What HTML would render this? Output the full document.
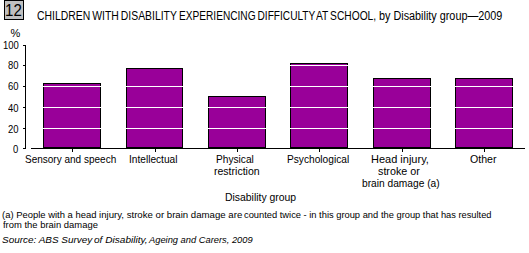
<!DOCTYPE html>
<html><head><meta charset="utf-8">
<style>
html,body{margin:0;padding:0;background:#fff;}
body{width:529px;height:253px;overflow:hidden;position:relative;font-family:"Liberation Sans",sans-serif;color:#000;}
.t{position:absolute;white-space:nowrap;line-height:12px;transform-origin:0 0;}
svg{position:absolute;left:0;top:0;}
#box{position:absolute;left:4px;top:0;width:20px;height:20px;box-sizing:border-box;border:1px solid #000;background:#c0c0c0;}
</style></head>
<body>
<svg width="529" height="253" shape-rendering="crispEdges">
  <!-- bars -->
  <g fill="#990099" stroke="none">
    <rect x="43" y="83" width="58" height="65" fill="#000"/>
    <rect x="44" y="84" width="56" height="63"/>
    <rect x="126" y="68" width="57" height="80" fill="#000"/>
    <rect x="127" y="69" width="55" height="78"/>
    <rect x="208" y="96" width="58" height="52" fill="#000"/>
    <rect x="209" y="97" width="56" height="50"/>
    <rect x="290" y="63" width="58" height="85" fill="#000"/>
    <rect x="291" y="64" width="56" height="83"/>
    <rect x="373" y="78" width="58" height="70" fill="#000"/>
    <rect x="374" y="79" width="56" height="68"/>
    <rect x="455" y="78" width="58" height="70" fill="#000"/>
    <rect x="456" y="79" width="56" height="68"/>
  </g>
  <!-- gridlines over bars -->
  <g fill="#fff">
    <rect x="31" y="65" width="494" height="1"/>
    <rect x="31" y="86" width="494" height="1"/>
    <rect x="31" y="107" width="494" height="1"/>
    <rect x="31" y="128" width="494" height="1"/>
  </g>
  <!-- axes -->
  <g fill="#000">
    <rect x="25" y="45" width="1" height="104"/>
    <rect x="23" y="45" width="2" height="1"/>
    <rect x="23" y="65" width="2" height="1"/>
    <rect x="23" y="86" width="2" height="1"/>
    <rect x="23" y="107" width="2" height="1"/>
    <rect x="23" y="128" width="2" height="1"/>
    <rect x="23" y="148" width="2" height="1"/>
    <rect x="31" y="148" width="494" height="1"/>
    <rect x="72" y="149" width="1" height="3"/>
    <rect x="155" y="149" width="1" height="3"/>
    <rect x="237" y="149" width="1" height="3"/>
    <rect x="319" y="149" width="1" height="3"/>
    <rect x="402" y="149" width="1" height="3"/>
    <rect x="484" y="149" width="1" height="3"/>
  </g>
</svg>
<div id="box"></div>
<div class="t" id="box12" style="left:5.00px;top:2px;font-size:16px;line-height:18px;transform:scaleX(0.9412);">12</div>
<div class="t" id="ti1" style="left:37.00px;top:9px;font-size:12px;line-height:14px;transform:scaleX(0.8670);word-spacing:-1px;">CHILDREN WITH DISABILITY</div>
<div class="t" id="ti2" style="left:179.00px;top:9px;font-size:12px;line-height:14px;transform:scaleX(0.8442);word-spacing:-1px;">EXPERIENCING DIFFICULTY</div>
<div class="t" id="ti3" style="left:316.00px;top:9px;font-size:12px;line-height:14px;transform:scaleX(0.8516);word-spacing:-1px;">AT SCHOOL,</div>
<div class="t" id="ti8" style="left:379.00px;top:9px;font-size:12px;line-height:14px;transform:scaleX(0.9019);">by Disability group—2009</div>
<div class="t" id="pct" style="left:10.50px;top:27px;font-size:11px;line-height:13px;transform:scaleX(1.0000);">%</div>
<div class="t" id="y100" style="left:3.00px;top:39px;font-size:11px;line-height:13px;transform:scaleX(0.8600);">100</div>
<div class="t" id="y80" style="left:7.50px;top:59px;font-size:11px;line-height:13px;transform:scaleX(0.8600);">80</div>
<div class="t" id="y60" style="left:7.50px;top:80px;font-size:11px;line-height:13px;transform:scaleX(0.8600);">60</div>
<div class="t" id="y40" style="left:8.00px;top:102px;font-size:11px;line-height:13px;transform:scaleX(0.8600);">40</div>
<div class="t" id="y20" style="left:7.50px;top:123px;font-size:11px;line-height:13px;transform:scaleX(0.8600);">20</div>
<div class="t" id="y0" style="left:12.50px;top:143px;font-size:11px;line-height:13px;transform:scaleX(0.8600);">0</div>
<div class="t" id="l1" style="left:25.00px;top:153px;font-size:11px;line-height:13px;transform:scaleX(0.9093);">Sensory and speech</div>
<div class="t" id="l2" style="left:129.00px;top:153px;font-size:11px;line-height:13px;transform:scaleX(0.9216);">Intellectual</div>
<div class="t" id="l3a" style="left:216.00px;top:153px;font-size:11px;line-height:13px;transform:scaleX(0.9231);">Physical</div>
<div class="t" id="l3b" style="left:214.00px;top:165px;font-size:11px;line-height:13px;transform:scaleX(0.9565);">restriction</div>
<div class="t" id="l4" style="left:287.00px;top:153px;font-size:11px;line-height:13px;transform:scaleX(0.9242);">Psychological</div>
<div class="t" id="l5a" style="left:371.00px;top:153px;font-size:11px;line-height:13px;transform:scaleX(1.0000);">Head injury,</div>
<div class="t" id="l5b" style="left:378.00px;top:165px;font-size:11px;line-height:13px;transform:scaleX(0.9785);">stroke or</div>
<div class="t" id="l5c" style="left:362.00px;top:177px;font-size:11px;line-height:13px;transform:scaleX(0.9268);">brain damage (a)</div>
<div class="t" id="l6" style="left:470.00px;top:153px;font-size:11px;line-height:13px;transform:scaleX(0.9645);">Other</div>
<div class="t" id="xt" style="left:225.00px;top:191px;font-size:11px;line-height:13px;transform:scaleX(0.9459);">Disability group</div>
<div class="t" id="f1a" style="left:2.00px;top:209px;font-size:9.5px;line-height:11px;transform:scaleX(0.9929);">(a) People with a head</div>
<div class="t" id="f1b" style="left:99.00px;top:209px;font-size:9.5px;line-height:11px;transform:scaleX(1.0136);">injury, stroke or brain damage are</div>
<div class="t" id="f1c" style="left:244.00px;top:209px;font-size:9.5px;line-height:11px;transform:scaleX(0.9810);">counted twice - in this group and</div>
<div class="t" id="f1e" style="left:381.00px;top:209px;font-size:9.5px;line-height:11px;transform:scaleX(0.9777);">the group that has resulted</div>
<div class="t" id="f2" style="left:3.00px;top:219px;font-size:9.5px;line-height:11px;transform:scaleX(0.9926);">from the brain damage</div>
<div class="t" id="srca" style="left:2.00px;top:234px;font-size:9.5px;line-height:11px;transform:scaleX(1.0469);font-style:italic;">Source: ABS Survey</div>
<div class="t" id="srcb" style="left:94.00px;top:234px;font-size:9.5px;line-height:11px;transform:scaleX(1.0616);font-style:italic;">of Disability,</div>
<div class="t" id="srcc" style="left:149.00px;top:234px;font-size:9.5px;line-height:11px;transform:scaleX(0.9811);font-style:italic;">Ageing and Carers, 2009</div>
</body></html>
